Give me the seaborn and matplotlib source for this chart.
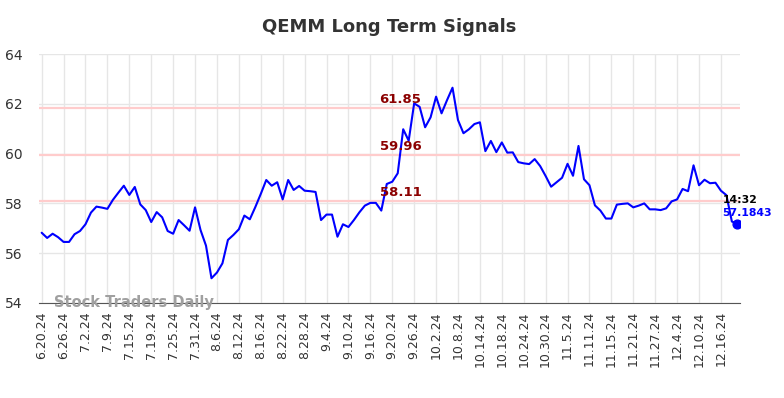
import pandas as pd
import seaborn as sns
import matplotlib.pyplot as plt

# trading days 6.20.24 - 12.19.24
holidays = ["2024-07-04", "2024-09-02", "2024-11-28"]
dates = pd.bdate_range("2024-06-20", "2024-12-19", freq="C", holidays=holidays)

prices = [
    56.82, 56.61, 56.78, 56.64, 56.45, 56.45, 56.76, 56.89, 57.16, 57.63,
    57.87, 57.83, 57.78, 58.14, 58.43, 58.71, 58.34, 58.66, 57.96, 57.73,
    57.25, 57.65, 57.44, 56.89, 56.78, 57.33, 57.12, 56.90, 57.84, 56.93,
    56.30, 54.99, 55.22, 55.59, 56.53, 56.73, 56.96, 57.51, 57.36, 57.85,
    58.38, 58.94, 58.71, 58.85, 58.16, 58.94, 58.54, 58.70, 58.51, 58.49,
    58.46, 57.33, 57.55, 57.55, 56.66, 57.16, 57.05, 57.33, 57.64, 57.91,
    58.02, 58.02, 57.71, 58.78, 58.87, 59.21, 60.98, 60.52, 62.02, 61.88,
    61.06, 61.46, 62.29, 61.62, 62.15, 62.65, 61.35, 60.82, 60.98, 61.19,
    61.26, 60.10, 60.51, 60.06, 60.45, 60.04, 60.05, 59.66, 59.61, 59.58,
    59.78, 59.50, 59.10, 58.67, 58.85, 59.03, 59.59, 59.11, 60.31, 58.97,
    58.73, 57.92, 57.71, 57.39, 57.39, 57.95, 57.98, 58.00, 57.84, 57.91,
    58.00, 57.76, 57.76, 57.73, 57.80, 58.08, 58.16, 58.58, 58.49, 59.53,
    58.73, 58.95, 58.81, 58.83, 58.51, 58.33, 57.27, 57.1843,
]
signals = [61.85, 59.96, 58.11]
last_time = "14:32"

df = pd.DataFrame({"pos": range(len(prices)), "price": prices})
tick_pos = list(range(0, len(dates), 4))
tick_labels = [f"{dates[i].month}.{dates[i].day}.{dates[i].year % 100}" for i in tick_pos]

sns.set_style("white")
fig = plt.figure(figsize=(7.84, 3.98), dpi=100)
ax = fig.add_axes([0.050, 0.239, 0.894, 0.625])

for s in signals:
    ax.axhline(s, color="#ffcccc", lw=1.6, zorder=1)

sns.lineplot(data=df, x="pos", y="price", color="#0000ff", lw=1.5, ax=ax, zorder=3)
ax.scatter([df["pos"].iloc[-1]], [prices[-1]], s=40, color="#0000ff", zorder=4)

for s in signals:
    ax.text(65.5, s + 0.08, f"{s:.2f}", color="#8b0000", fontsize=9.5,
            fontweight="bold", ha="center", va="bottom", zorder=5)

ax.text(124.3, 58.12, last_time, color="black", fontsize=7.8,
        fontweight="bold", ha="left", va="center", zorder=5)
ax.text(124.3, 57.62, f"{prices[-1]}", color="#0000ff", fontsize=7.8,
        fontweight="bold", ha="left", va="center", zorder=5)

ax.text(2.2, 54.0, "Stock Traders Daily", color="#a0a0a0", fontsize=10.5,
        fontweight="bold", ha="left", va="center", zorder=5)

ax.set_xlim(-0.45, 127.5)
ax.set_ylim(54, 64)
ax.set_yticks([54, 56, 58, 60, 62, 64])
ax.set_xticks(tick_pos)
ax.set_xticklabels(tick_labels, rotation=90, fontsize=9, color="#333333")
ax.tick_params(axis="y", labelsize=10, colors="#333333", length=0, pad=12)
ax.tick_params(axis="x", length=0, pad=6)
ax.grid(True, color="#e6e6e6", lw=1, zorder=0)
ax.set_axisbelow(True)
for side in ["top", "right", "left"]:
    ax.spines[side].set_visible(False)
ax.spines["bottom"].set_color("#555555")
ax.set_xlabel("")
ax.set_ylabel("")

fig.suptitle("QEMM Long Term Signals", x=0.497, y=0.955, fontsize=13,
             fontweight="bold", color="#333333")

fig.savefig("out.png", dpi=100)
